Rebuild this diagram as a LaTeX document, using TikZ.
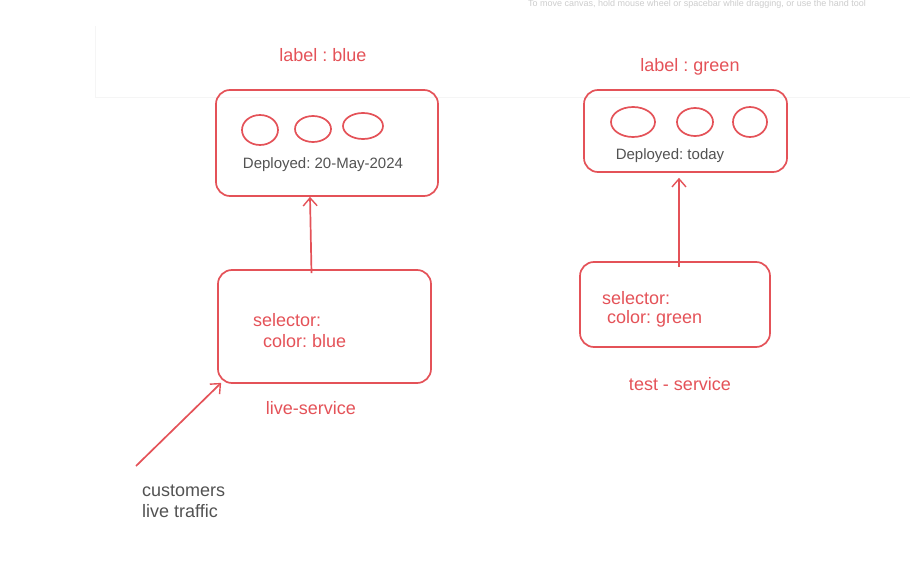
\documentclass[tikz,border=0pt]{standalone}
\usepackage{fontspec}
\setmainfont{Liberation Sans}
\usetikzlibrary{arrows.meta}
\definecolor{sketchred}{RGB}{228,82,88}
\definecolor{textgray}{RGB}{82,82,82}
\frenchspacing
\begin{document}
\begin{tikzpicture}[x=1pt,y=-1pt,
    box/.style={draw=sketchred,line width=1.7pt,rounded corners=14pt,inner sep=0pt},
    pod/.style={draw=sketchred,line width=1.7pt},
    redtext/.style={text=sketchred,font=\fontsize{18}{21}\selectfont,inner sep=0pt},
    graytext/.style={text=textgray,font=\fontsize{15}{18}\selectfont,inner sep=0pt},
    arr/.style={draw=sketchred,line width=1.7pt,-{Straight Barb[length=8pt,width=14pt,line width=1.4pt]}}]
    \useasboundingbox (0,0) rectangle (910,564);

    % faint canvas hint
    \node[text=gray!40,font=\fontsize{9}{10}\selectfont,anchor=west,inner sep=0pt] (hint) at (528,4.5) {To move canvas, hold mouse wheel or spacebar while dragging, or use the hand tool};
    \draw[gray!8] (95,26) -- (95,97) -- (910,97);

    % blue deployment
    \node[redtext] (bluelabel) at (323,55) {label : blue};
    \node[box,minimum width=222pt,minimum height=106pt] (bluepods) at (327,143) {};
    \draw[pod] (260,130) ellipse [x radius=18pt,y radius=15pt];
    \draw[pod] (313,129) ellipse [x radius=18pt,y radius=13pt];
    \draw[pod] (363,126) ellipse [x radius=20pt,y radius=13pt];
    \node[graytext] (bluedate) at (323,165) {Deployed: 20-May-2024};

    % green deployment
    \node[redtext] (greenlabel) at (690,67) {label : green};
    \node[box,minimum width=203pt,minimum height=82pt] (testpods) at (685.5,131) {};
    \draw[pod] (633,122) ellipse [x radius=22pt,y radius=15pt];
    \draw[pod] (695,122) ellipse [x radius=18pt,y radius=14pt];
    \draw[pod] (750,122) ellipse [x radius=17pt,y radius=15pt];
    \node[graytext] (greendate) at (670,156) {Deployed: today};

    % services
    \node[box,minimum width=213pt,minimum height=113pt] (livesvc) at (324.5,326.5) {};
    \node[redtext,anchor=west] (livesel) at (253,320) {selector:};
    \node[redtext,anchor=west] (livecol) at (263,341) {color: blue};
    \node[redtext] (livename) at (311,408) {live-service};

    \node[box,minimum width=190pt,minimum height=85pt] (testsvc) at (675,304.5) {};
    \node[redtext,anchor=west] (testsel) at (602,298) {selector:};
    \node[redtext,anchor=west] (testcol) at (607,319) {color: green};
    \node[redtext] (testname) at (680,384) {test - service};

    % traffic
    \coordinate (traffic) at (136,466);
    \node[redtext,text=textgray,anchor=north west,align=left] (customers) at (142,485) {customers\\live traffic};

    \draw[arr] ([xshift=-13pt,yshift=-4pt]livesvc.north) -- ([xshift=-17pt]bluepods.south);
    \draw[arr] ([xshift=4pt,yshift=-6pt]testsvc.north) -- ([xshift=-6.5pt,yshift=-5pt]testpods.south);
    \draw[arr] (traffic) -- ([xshift=4pt,yshift=1pt]livesvc.south west);
\end{tikzpicture}
\end{document}
